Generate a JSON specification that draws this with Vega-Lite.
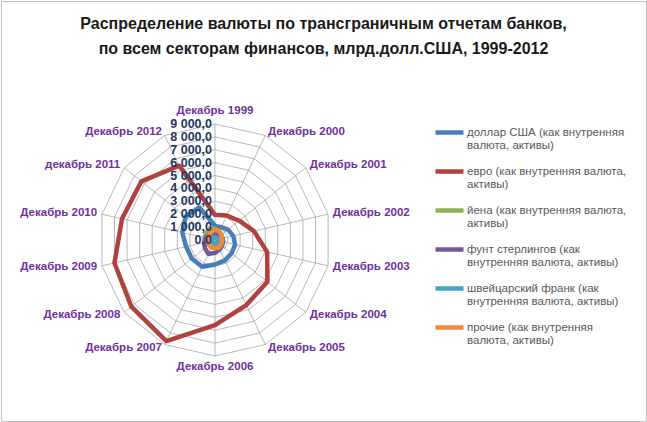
{
  "$schema": "https://vega.github.io/schema/vega-lite/v6.json",
  "width": 645,
  "height": 420,
  "padding": 1,
  "autosize": "none",
  "background": "white",
  "title": {
    "text": ["Распределение валюты по трансграничным отчетам банков,", "по всем секторам финансов,  млрд.долл.США, 1999-2012"],
    "orient": "top",
    "anchor": "middle",
    "frame": "group",
    "offset": -56,
    "font": "Liberation Sans",
    "fontSize": 16,
    "fontWeight": "bold",
    "color": "#1a1a1a",
    "lineHeight": 25
  },
  "config": {
    "view": {"stroke": "#BFBFBF", "strokeWidth": 1},
    "legend": {"padding": 0}
  },
  "datasets": {
    "cats": [
      {"idx": 0, "label": "Декабрь 1999", "usd": 1100, "eur": 1950, "jpy": 850, "gbp": 500, "chf": 200, "other": 800},
      {"idx": 1, "label": "Декабрь 2000", "usd": 1100, "eur": 2100, "jpy": 750, "gbp": 500, "chf": 200, "other": 750},
      {"idx": 2, "label": "Декабрь 2001", "usd": 1300, "eur": 2400, "jpy": 650, "gbp": 550, "chf": 200, "other": 650},
      {"idx": 3, "label": "Декабрь 2002", "usd": 1450, "eur": 3100, "jpy": 600, "gbp": 600, "chf": 200, "other": 550},
      {"idx": 4, "label": "Декабрь 2003", "usd": 1600, "eur": 4150, "jpy": 550, "gbp": 650, "chf": 250, "other": 550},
      {"idx": 5, "label": "Декабрь 2004", "usd": 1650, "eur": 5200, "jpy": 500, "gbp": 700, "chf": 250, "other": 600},
      {"idx": 6, "label": "Декабрь 2005", "usd": 1750, "eur": 5600, "jpy": 450, "gbp": 800, "chf": 250, "other": 650},
      {"idx": 7, "label": "Декабрь 2006", "usd": 1900, "eur": 6600, "jpy": 450, "gbp": 1000, "chf": 300, "other": 650},
      {"idx": 8, "label": "Декабрь 2007", "usd": 2300, "eur": 8700, "jpy": 500, "gbp": 1200, "chf": 300, "other": 650},
      {"idx": 9, "label": "Декабрь 2008", "usd": 2300, "eur": 8300, "jpy": 550, "gbp": 1000, "chf": 300, "other": 600},
      {"idx": 10, "label": "Декабрь 2009", "usd": 2300, "eur": 8000, "jpy": 600, "gbp": 850, "chf": 250, "other": 550},
      {"idx": 11, "label": "Декабрь 2010", "usd": 2600, "eur": 7400, "jpy": 750, "gbp": 750, "chf": 250, "other": 550},
      {"idx": 12, "label": "декабрь  2011", "usd": 2900, "eur": 7300, "jpy": 900, "gbp": 650, "chf": 250, "other": 600},
      {"idx": 13, "label": "Декабрь 2012", "usd": 2800, "eur": 6400, "jpy": 950, "gbp": 550, "chf": 200, "other": 700}
    ],
    "rings": [
      {"ring": 0, "text": "0,0", "idx": [0,1,2,3,4,5,6,7,8,9,10,11,12,13]},
      {"ring": 1000, "text": "1 000,0", "idx": [0,1,2,3,4,5,6,7,8,9,10,11,12,13]},
      {"ring": 2000, "text": "2 000,0", "idx": [0,1,2,3,4,5,6,7,8,9,10,11,12,13]},
      {"ring": 3000, "text": "3 000,0", "idx": [0,1,2,3,4,5,6,7,8,9,10,11,12,13]},
      {"ring": 4000, "text": "4 000,0", "idx": [0,1,2,3,4,5,6,7,8,9,10,11,12,13]},
      {"ring": 5000, "text": "5 000,0", "idx": [0,1,2,3,4,5,6,7,8,9,10,11,12,13]},
      {"ring": 6000, "text": "6 000,0", "idx": [0,1,2,3,4,5,6,7,8,9,10,11,12,13]},
      {"ring": 7000, "text": "7 000,0", "idx": [0,1,2,3,4,5,6,7,8,9,10,11,12,13]},
      {"ring": 8000, "text": "8 000,0", "idx": [0,1,2,3,4,5,6,7,8,9,10,11,12,13]},
      {"ring": 9000, "text": "9 000,0", "idx": [0,1,2,3,4,5,6,7,8,9,10,11,12,13]}
    ]
  },
  "layer": [
    {
      "data": {"name": "rings"},
      "transform": [
        {"filter": "datum.ring > 0"},
        {"flatten": ["idx"]},
        {"calculate": "datum.ring * sin(datum.idx * PI / 7)", "as": "x"},
        {"calculate": "datum.ring * cos(datum.idx * PI / 7)", "as": "y"}
      ],
      "mark": {"type": "line", "interpolate": "linear-closed", "stroke": "#A6A6A6", "strokeWidth": 0.8},
      "encoding": {
        "x": {"field": "x", "type": "quantitative", "scale": {"domain": [-16603, 33439], "nice": false, "zero": false}, "axis": null},
        "y": {"field": "y", "type": "quantitative", "scale": {"domain": [-14043, 18543], "nice": false, "zero": false}, "axis": null},
        "detail": {"field": "ring", "type": "nominal"},
        "order": {"field": "idx", "type": "quantitative"}
      }
    },
    {
      "data": {"name": "cats"},
      "transform": [
        {"calculate": "9000 * sin(datum.idx * PI / 7)", "as": "sx"},
        {"calculate": "9000 * cos(datum.idx * PI / 7)", "as": "sy"}
      ],
      "mark": {"type": "rule", "stroke": "#A6A6A6", "strokeWidth": 0.8},
      "encoding": {
        "x": {"field": "sx", "type": "quantitative"},
        "y": {"field": "sy", "type": "quantitative"},
        "x2": {"datum": 0},
        "y2": {"datum": 0}
      }
    },
    {
      "data": {"name": "cats"},
      "transform": [
        {"fold": ["usd", "eur", "jpy", "gbp", "chf", "other"], "as": ["series", "value"]},
        {"calculate": "datum.value * sin(datum.idx * PI / 7)", "as": "x"},
        {"calculate": "datum.value * cos(datum.idx * PI / 7)", "as": "y"}
      ],
      "mark": {"type": "line", "interpolate": "linear-closed", "strokeWidth": 4.5, "strokeJoin": "round"},
      "encoding": {
        "x": {"field": "x", "type": "quantitative"},
        "y": {"field": "y", "type": "quantitative"},
        "order": {"field": "idx", "type": "quantitative"},
        "color": {
          "field": "series",
          "type": "nominal",
          "scale": {
            "domain": ["usd", "eur", "jpy", "gbp", "chf", "other"],
            "range": ["#4A7EBB", "#B0413E", "#8DB352", "#735A96", "#46A4BE", "#F08A3C"]
          },
          "legend": {
            "title": null,
            "orient": "none",
            "legendX": 432,
            "legendY": 115,
            "symbolType": "stroke",
            "symbolStrokeWidth": 4.5,
            "symbolSize": 784,
            "labelFont": "Liberation Sans",
            "labelFontSize": 11.5,
            "labelColor": "#595959",
            "labelLimit": 300,
            "labelOffset": 1,
            "rowPadding": 3,
            "labelExpr": "datum.label == 'usd' ? ['доллар США (как внутренняя', 'валюта, активы)'] : datum.label == 'eur' ? ['евро (как внутренняя валюта,', 'активы)'] : datum.label == 'jpy' ? ['йена (как внутренняя валюта,', 'активы)'] : datum.label == 'gbp' ? ['фунт стерлингов (как', 'внутренняя валюта, активы)'] : datum.label == 'chf' ? ['швейцарский  франк (как', 'внутренняя валюта, активы)'] : ['прочие (как внутренняя', 'валюта, активы)']"
          }
        }
      }
    },
    {
      "data": {"name": "rings"},
      "mark": {"type": "text", "align": "right", "baseline": "middle", "dx": -3, "font": "Liberation Sans", "fontSize": 12.5, "fontWeight": "bold", "color": "#1F3864"},
      "encoding": {
        "x": {"datum": 0, "type": "quantitative"},
        "y": {"field": "ring", "type": "quantitative"},
        "text": {"field": "text"}
      }
    },
    {
      "data": {"name": "cats"},
      "transform": [
        {"filter": "datum.idx == 0 || datum.idx == 7"},
        {"calculate": "9300 * sin(datum.idx * PI / 7)", "as": "lx"},
        {"calculate": "datum.idx == 0 ? 10000 : -9850", "as": "ly"}
      ],
      "mark": {"type": "text", "align": "center", "baseline": "middle", "font": "Liberation Sans", "fontSize": 11.5, "fontWeight": "bold", "color": "#7030A0"},
      "encoding": {
        "x": {"field": "lx", "type": "quantitative"},
        "y": {"field": "ly", "type": "quantitative"},
        "text": {"field": "label"}
      }
    },
    {
      "data": {"name": "cats"},
      "transform": [
        {"filter": "datum.idx >= 1 && datum.idx <= 6"},
        {"calculate": "9300 * sin(datum.idx * PI / 7)", "as": "lx"},
        {"calculate": "9300 * cos(datum.idx * PI / 7)", "as": "ly"}
      ],
      "mark": {"type": "text", "align": "left", "baseline": "middle", "dx": 1, "font": "Liberation Sans", "fontSize": 11.5, "fontWeight": "bold", "color": "#7030A0"},
      "encoding": {
        "x": {"field": "lx", "type": "quantitative"},
        "y": {"field": "ly", "type": "quantitative"},
        "text": {"field": "label"}
      }
    },
    {
      "data": {"name": "cats"},
      "transform": [
        {"filter": "datum.idx >= 8"},
        {"calculate": "9300 * sin(datum.idx * PI / 7)", "as": "lx"},
        {"calculate": "9300 * cos(datum.idx * PI / 7)", "as": "ly"}
      ],
      "mark": {"type": "text", "align": "right", "baseline": "middle", "dx": -1, "font": "Liberation Sans", "fontSize": 11.5, "fontWeight": "bold", "color": "#7030A0"},
      "encoding": {
        "x": {"field": "lx", "type": "quantitative"},
        "y": {"field": "ly", "type": "quantitative"},
        "text": {"field": "label"}
      }
    }
  ]
}
